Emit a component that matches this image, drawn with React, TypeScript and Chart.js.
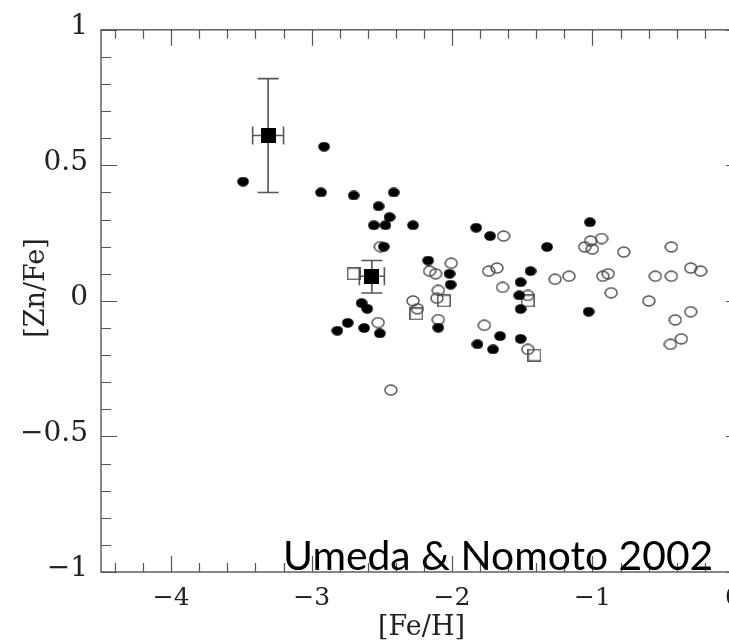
import React, { useEffect, useRef } from 'react';
import { Chart, registerables } from 'chart.js';

Chart.register(...registerables);

// ---- data ----
const filledCircles: [number, number][] = [
  [-3.488, 0.44], [-2.911, 0.569], [-2.933, 0.40], [-2.70, 0.389], [-2.415, 0.40],
  [-2.523, 0.349], [-2.445, 0.309], [-2.557, 0.279], [-2.474, 0.279], [-2.278, 0.279],
  [-2.486, 0.20], [-2.644, -0.008], [-2.604, -0.029], [-2.743, -0.081], [-2.817, -0.11],
  [-2.626, -0.10], [-2.514, -0.12], [-2.17, 0.149], [-2.018, 0.10], [-2.01, 0.06],
  [-2.098, -0.099], [-1.828, 0.27], [-1.729, 0.239], [-1.018, 0.29], [-1.323, 0.199],
  [-1.441, 0.11], [-1.512, 0.069], [-1.521, 0.02], [-1.512, -0.03], [-1.027, -0.04],
  [-1.658, -0.13], [-1.819, -0.16], [-1.708, -0.179], [-1.512, -0.14],
];

const openCircles: [number, number][] = [
  [-2.51, 0.20], [-2.278, 0.0], [-2.526, -0.08], [-2.436, -0.329], [-2.247, -0.029],
  [-1.633, 0.239], [-1.013, 0.221], [-0.935, 0.23], [-1.055, 0.199], [-1.001, 0.191],
  [-0.777, 0.18], [-0.438, 0.199], [-2.006, 0.139], [-2.16, 0.11], [-2.117, 0.10],
  [-2.098, 0.039], [-2.108, 0.01], [-2.098, -0.069], [-1.739, 0.11], [-1.68, 0.121],
  [-1.64, 0.05], [-1.46, 0.02], [-1.266, 0.08], [-1.167, 0.091], [-0.926, 0.091],
  [-0.888, 0.10], [-0.867, 0.03], [-0.599, 0.0], [-0.552, 0.091], [-0.438, 0.091],
  [-0.30, 0.121], [-0.23, 0.11], [-0.30, -0.04], [-0.41, -0.07], [-0.367, -0.14],
  [-0.445, -0.16], [-1.77, -0.09], [-1.46, -0.179],
];

const openSquares: [number, number][] = [
  [-2.70, 0.10], [-2.254, -0.048], [-2.058, 0.0], [-1.46, 0.0], [-1.413, -0.2],
];

// filled squares with error bars
const errX = [-3.31, -2.571];
const errY = [0.61, 0.091];
const errXHalf = [0.11, 0.089];
const errYUp = [0.21, 0.058];
const errYDown = [0.21, 0.062];

const xTickValues = [-4, -3, -2, -1, 0];
const xTickLabels = ['\u22124', '\u22123', '\u22122', '\u22121', '0'];
const yTickValues = [-1, -0.5, 0, 0.5, 1];
const yTickLabels = ['\u22121', '\u22120.5', '0', '0.5', '1'];

const xTitle = '[Fe/H]';
const yTitle = '[Zn/Fe]';
const annotation = 'Umeda & Nomoto 2002';

const X_MIN = -4.5;
const X_MAX = 0.065;
const Y_MIN = -1;
const Y_MAX = 1;

const AXIS_COLOR = '#555';
const TEXT_COLOR = '#222';
const SERIF = '"DejaVu Serif", "Liberation Serif", serif';

function makeMarker(w: number, h: number, draw: (c: CanvasRenderingContext2D) => void) {
  const c = document.createElement('canvas');
  c.width = w;
  c.height = h;
  const g = c.getContext('2d')!;
  draw(g);
  return c;
}

export default function App() {
  const ref = useRef<HTMLCanvasElement | null>(null);

  useEffect(() => {
    if (!ref.current) return;

    const filledEllipse = makeMarker(12, 10, (g) => {
      g.fillStyle = '#000';
      g.beginPath();
      g.ellipse(6, 5, 5.8, 4.8, 0, 0, Math.PI * 2);
      g.fill();
    });
    const openEllipse = makeMarker(14, 12, (g) => {
      g.strokeStyle = '#4a4a4a';
      g.lineWidth = 1.4;
      g.beginPath();
      g.ellipse(7, 6, 6, 5, 0, 0, Math.PI * 2);
      g.stroke();
    });
    const openSquare = makeMarker(14, 13, (g) => {
      g.strokeStyle = '#4a4a4a';
      g.lineWidth = 1.4;
      g.strokeRect(0.8, 0.8, 12.4, 11.4);
    });
    const filledSquare = makeMarker(15, 15, (g) => {
      g.fillStyle = '#000';
      g.fillRect(0, 0, 15, 15);
    });

    const framePlugin = {
      id: 'frameTicks',
      beforeDatasetsDraw(chart: any) {
        const { ctx, chartArea: a, scales } = chart;
        const xs = scales.x;
        const ys = scales.y;
        ctx.save();
        ctx.strokeStyle = AXIS_COLOR;
        ctx.lineWidth = 1.4;
        ctx.strokeRect(a.left, a.top, a.right - a.left, a.bottom - a.top);
        ctx.lineWidth = 1.2;
        ctx.beginPath();
        // x ticks every 0.2, majors at integers
        for (let k = -22; k <= 0; k++) {
          const v = k * 0.2;
          const major = Math.abs(v - Math.round(v)) < 1e-6;
          const len = major ? 16 : 9;
          const px = Math.round(xs.getPixelForValue(v)) + 0.5;
          ctx.moveTo(px, a.bottom);
          ctx.lineTo(px, a.bottom - len);
          ctx.moveTo(px, a.top);
          ctx.lineTo(px, a.top + len);
        }
        // y ticks every 0.1, majors every 0.5
        for (let k = -10; k <= 10; k++) {
          const v = k * 0.1;
          const major = k % 5 === 0;
          const len = major ? 16 : 10;
          const py = Math.round(ys.getPixelForValue(v)) + 0.5;
          ctx.moveTo(a.left, py);
          ctx.lineTo(a.left + len, py);
          ctx.moveTo(a.right, py);
          ctx.lineTo(a.right - len, py);
        }
        ctx.stroke();

        // error bars
        ctx.strokeStyle = '#555';
        ctx.lineWidth = 1.6;
        ctx.beginPath();
        for (let i = 0; i < errX.length; i++) {
          const cx = xs.getPixelForValue(errX[i]);
          const cy = ys.getPixelForValue(errY[i]);
          const x0 = xs.getPixelForValue(errX[i] - errXHalf[i]);
          const x1 = xs.getPixelForValue(errX[i] + errXHalf[i]);
          const y0 = ys.getPixelForValue(errY[i] + errYUp[i]);
          const y1 = ys.getPixelForValue(errY[i] - errYDown[i]);
          ctx.moveTo(cx, y0); ctx.lineTo(cx, y1);
          ctx.moveTo(cx - 10.5, y0); ctx.lineTo(cx + 10.5, y0);
          ctx.moveTo(cx - 10.5, y1); ctx.lineTo(cx + 10.5, y1);
          ctx.moveTo(x0, cy); ctx.lineTo(x1, cy);
          ctx.moveTo(x0, cy - 9); ctx.lineTo(x0, cy + 9);
          ctx.moveTo(x1, cy - 9); ctx.lineTo(x1, cy + 9);
        }
        ctx.stroke();
        ctx.restore();
      },
      afterDraw(chart: any) {
        const { ctx, chartArea: a } = chart;
        ctx.save();
        // y title
        ctx.fillStyle = TEXT_COLOR;
        ctx.font = `27px ${SERIF}`;
        ctx.textAlign = 'center';
        ctx.textBaseline = 'middle';
        ctx.translate(37, (a.top + a.bottom) / 2 - 13);
        ctx.rotate(-Math.PI / 2);
        ctx.fillText(yTitle, 0, 0);
        ctx.restore();

        // annotation
        ctx.save();
        ctx.fillStyle = '#000';
        ctx.font = '40px Lato, "Open Sans", sans-serif';
        const w = ctx.measureText(annotation).width;
        const target = 430;
        const size = 40 * (target / w);
        ctx.font = `${size.toFixed(1)}px Lato, "Open Sans", sans-serif`;
        ctx.textAlign = 'left';
        ctx.textBaseline = 'alphabetic';
        ctx.fillText(annotation, 283, a.bottom - 2);
        ctx.restore();
      },
    };

    const chart = new Chart(ref.current, {
      type: 'scatter',
      data: {
        datasets: [
          {
            label: 'filled squares',
            data: errX.map((x, i) => ({ x, y: errY[i] })),
            pointStyle: filledSquare as any,
            pointRadius: 7,
          },
          {
            label: 'filled circles',
            data: filledCircles.map(([x, y]) => ({ x, y })),
            pointStyle: filledEllipse as any,
            pointRadius: 6,
          },
          {
            label: 'open squares',
            data: openSquares.map(([x, y]) => ({ x, y })),
            pointStyle: openSquare as any,
            pointRadius: 6,
          },
          {
            label: 'open circles',
            data: openCircles.map(([x, y]) => ({ x, y })),
            pointStyle: openEllipse as any,
            pointRadius: 6,
          },
        ],
      },
      options: {
        animation: false,
        responsive: false,
        events: [],
        layout: { padding: { top: 20, right: 38, left: 0, bottom: 0 } },
        plugins: { legend: { display: false }, tooltip: { enabled: false } },
        scales: {
          x: {
            type: 'linear',
            min: X_MIN,
            max: X_MAX,
            grid: { display: false, drawTicks: false },
            border: { display: false },
            afterBuildTicks: (s: any) => {
              s.ticks = xTickValues.map((value) => ({ value }));
            },
            afterFit: (s: any) => {
              s.height = 68;
            },
            ticks: {
              autoSkip: false,
              maxRotation: 0,
              padding: 11,
              color: TEXT_COLOR,
              font: { family: SERIF, size: 25 },
              callback: (v: any) => {
                const i = xTickValues.indexOf(Number(v));
                return i >= 0 ? xTickLabels[i] : '';
              },
            },
            title: {
              display: true,
              text: xTitle,
              color: TEXT_COLOR,
              font: { family: SERIF, size: 27 },
              padding: { top: 0, bottom: -4 },
            },
          },
          y: {
            type: 'linear',
            min: Y_MIN,
            max: Y_MAX,
            grid: { display: false, drawTicks: false },
            border: { display: false },
            afterBuildTicks: (s: any) => {
              s.ticks = yTickValues.map((value) => ({ value }));
            },
            afterFit: (s: any) => {
              s.width = 101;
            },
            ticks: {
              autoSkip: false,
              padding: 13,
              labelOffset: -3,
              color: TEXT_COLOR,
              font: { family: SERIF, size: 28 },
              callback: (v: any) => {
                const i = yTickValues.indexOf(Number(v));
                return i >= 0 ? yTickLabels[i] : '';
              },
            },
          },
        },
      },
      plugins: [framePlugin],
    } as any);

    return () => chart.destroy();
  }, []);

  return (
    <div
      style={{
        position: 'fixed',
        left: 0,
        top: 0,
        width: 729,
        height: 640,
        overflow: 'hidden',
        background: '#fff',
      }}
    >
      <canvas ref={ref} width={780} height={640} style={{ display: 'block' }} />
    </div>
  );
}
